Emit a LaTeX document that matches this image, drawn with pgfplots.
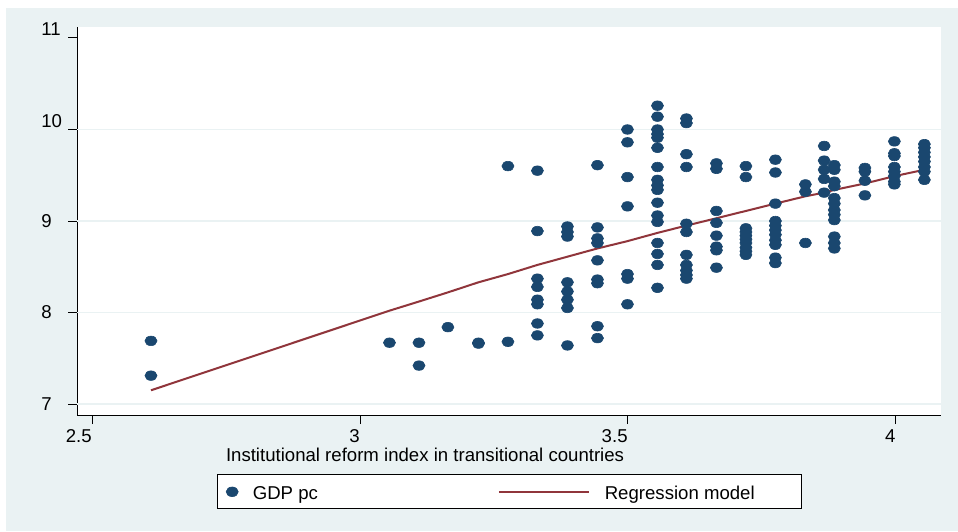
\documentclass[border=0pt]{standalone}
\usepackage{pgfplots}
\pgfplotsset{compat=1.18}
\usepackage{fontspec}
\setmainfont{Liberation Sans}
\definecolor{bgblue}{RGB}{234,242,243}
\definecolor{gridblue}{RGB}{234,242,243}
\definecolor{stnavy}{RGB}{26,71,111}
\definecolor{stmaroon}{RGB}{144,53,59}
\pgfplotsset{
  legmark/.style={legend image code/.code={\path[draw=none,fill=none] (0pt,-1pt) rectangle (17.8pt,1pt);
    \draw[##1] plot coordinates {(7.5pt,0pt)};}},
  legline/.style={legend image code/.code={\draw[##1] (0pt,0pt) -- (45.2pt,0pt);
    \path[draw=none,fill=none] (0pt,0pt) -- (53pt,0pt);}},
}
\begin{document}
\begin{tikzpicture}[font=\fontsize{9.3}{11}\selectfont]
\useasboundingbox (0,0) rectangle (479pt,265.5pt);
\fill[white] (0,0) rectangle (479pt,265.5pt);
\fill[bgblue] (3pt,0) rectangle (479pt,261.5pt);
\begin{axis}[
  at={(38.5pt,58pt)}, anchor=south west,
  width=432pt, height=194pt, scale only axis,
  xmin=2.472, xmax=4.084, ymin=6.88, ymax=11.12,
  axis x line*=bottom, axis y line*=left,
  axis line style={black, line width=0.5pt, -},
  axis background/.style={fill=white},
  tick align=outside,
  major tick length=4.5pt,
  tick style={black, line width=0.5pt},
  /pgf/number format/assume math mode=true,
  xtick={2.5,3,3.5,4},
  xticklabels={2.5,3,3.5,4},
  ytick={7,8,9,10,11},
  yticklabels={7,8,9,{\raisebox{3.9pt}{10}},{\raisebox{4.1pt}{11}}},
  extra y ticks={7,8,9,10},
  extra y tick labels={},
  extra y tick style={ymajorgrids=true, major tick length=0pt},
  grid style={gridblue, line width=0.8pt},
  xticklabel style={anchor=north east, inner sep=0pt, yshift=-2.6pt},
  yticklabel style={anchor=base west, inner sep=0pt, xshift=-13.5pt, yshift=-3pt},
  xlabel={Institutional reform index in transitional countries},
  xlabel style={at={(axis description cs:0.4028,-0.1204)}, anchor=base, inner sep=0pt},
  legend columns=2,
  legend cell align=left,
  legend style={at={(axis description cs:0.1617,-0.1528)}, anchor=north west,
    draw=black, line width=0.5pt, fill=white, inner sep=0pt, column sep=0pt,
    nodes={inner sep=0pt, text height=12.5pt, text depth=4.5pt, anchor=west}},
]
\addplot[stnavy, only marks, mark=*, mark size=2.4pt,
  mark options={fill=stnavy, draw=stnavy, line width=0.3pt, xscale=1.26}, legmark]
  coordinates {
  (2.610,7.69) (2.610,7.31)
  (3.055,7.67)
  (3.110,7.67) (3.110,7.42)
  (3.164,7.84)
  (3.221,7.67) (3.221,7.66)
  (3.276,7.68) (3.276,9.60)
  (3.331,9.55) (3.331,8.89) (3.331,8.37) (3.331,8.28) (3.331,8.14) (3.331,8.09) (3.331,7.88) (3.331,7.75)
  (3.387,8.94) (3.387,8.88) (3.387,8.83) (3.387,8.33) (3.387,8.23) (3.387,8.14) (3.387,8.05) (3.387,7.64)
  (3.443,9.61) (3.443,8.93) (3.443,8.81) (3.443,8.76) (3.443,8.57) (3.443,8.36) (3.443,8.32) (3.443,7.85) (3.443,7.72)
  (3.499,10.00) (3.499,9.86) (3.499,9.48) (3.499,9.16) (3.499,8.42) (3.499,8.37) (3.499,8.09)
  (3.555,10.26) (3.555,10.14) (3.555,10.00) (3.555,9.95) (3.555,9.91) (3.555,9.80) (3.555,9.59) (3.555,9.45) (3.555,9.39) (3.555,9.34) (3.555,9.20) (3.555,9.06) (3.555,8.99) (3.555,8.76) (3.555,8.64) (3.555,8.52) (3.555,8.27)
  (3.609,10.12) (3.609,10.07) (3.609,9.73) (3.609,9.59) (3.609,8.97) (3.609,8.88) (3.609,8.63) (3.609,8.52) (3.609,8.46) (3.609,8.41) (3.609,8.37)
  (3.665,9.63) (3.665,9.57) (3.665,9.11) (3.665,8.98) (3.665,8.84) (3.665,8.72) (3.665,8.68) (3.665,8.49)
  (3.720,9.60) (3.720,9.48) (3.720,8.92) (3.720,8.88) (3.720,8.84) (3.720,8.80) (3.720,8.76) (3.720,8.71) (3.720,8.67) (3.720,8.63)
  (3.775,9.67) (3.775,9.53) (3.775,9.19) (3.775,9.00) (3.775,8.95) (3.775,8.90) (3.775,8.85) (3.775,8.79) (3.775,8.74) (3.775,8.60) (3.775,8.54)
  (3.831,9.40) (3.831,9.32) (3.831,8.76)
  (3.866,9.82) (3.866,9.66) (3.866,9.56) (3.866,9.46) (3.866,9.31)
  (3.885,9.61) (3.885,9.56) (3.885,9.43) (3.885,9.38) (3.885,9.25) (3.885,9.19) (3.885,9.12) (3.885,9.07) (3.885,9.01) (3.885,8.83) (3.885,8.76) (3.885,8.70)
  (3.942,9.58) (3.942,9.54) (3.942,9.44) (3.942,9.28)
  (3.997,9.87) (3.997,9.74) (3.997,9.71) (3.997,9.59) (3.997,9.54) (3.997,9.49) (3.997,9.43) (3.997,9.40)
  (4.053,9.84) (4.053,9.80) (4.053,9.75) (4.053,9.70) (4.053,9.65) (4.053,9.59) (4.053,9.54) (4.053,9.45)
  };
\addlegendentry{\makebox[122.5pt][l]{GDP pc}}
\addplot[stmaroon, line width=1pt, no marks, legline]
  coordinates {
  (2.610,7.15) (3.055,8.02) (3.110,8.12) (3.164,8.22) (3.221,8.33)
  (3.276,8.42) (3.331,8.52) (3.387,8.61) (3.443,8.70) (3.499,8.78)
  (3.555,8.87) (3.609,8.95) (3.665,9.03) (3.720,9.11) (3.775,9.19)
  (3.831,9.27) (3.866,9.31) (3.885,9.34) (3.942,9.41) (3.997,9.49)
  (4.053,9.56)
  };
\addlegendentry{\makebox[98.35pt][l]{Regression model}}
\end{axis}
\end{tikzpicture}
\end{document}
